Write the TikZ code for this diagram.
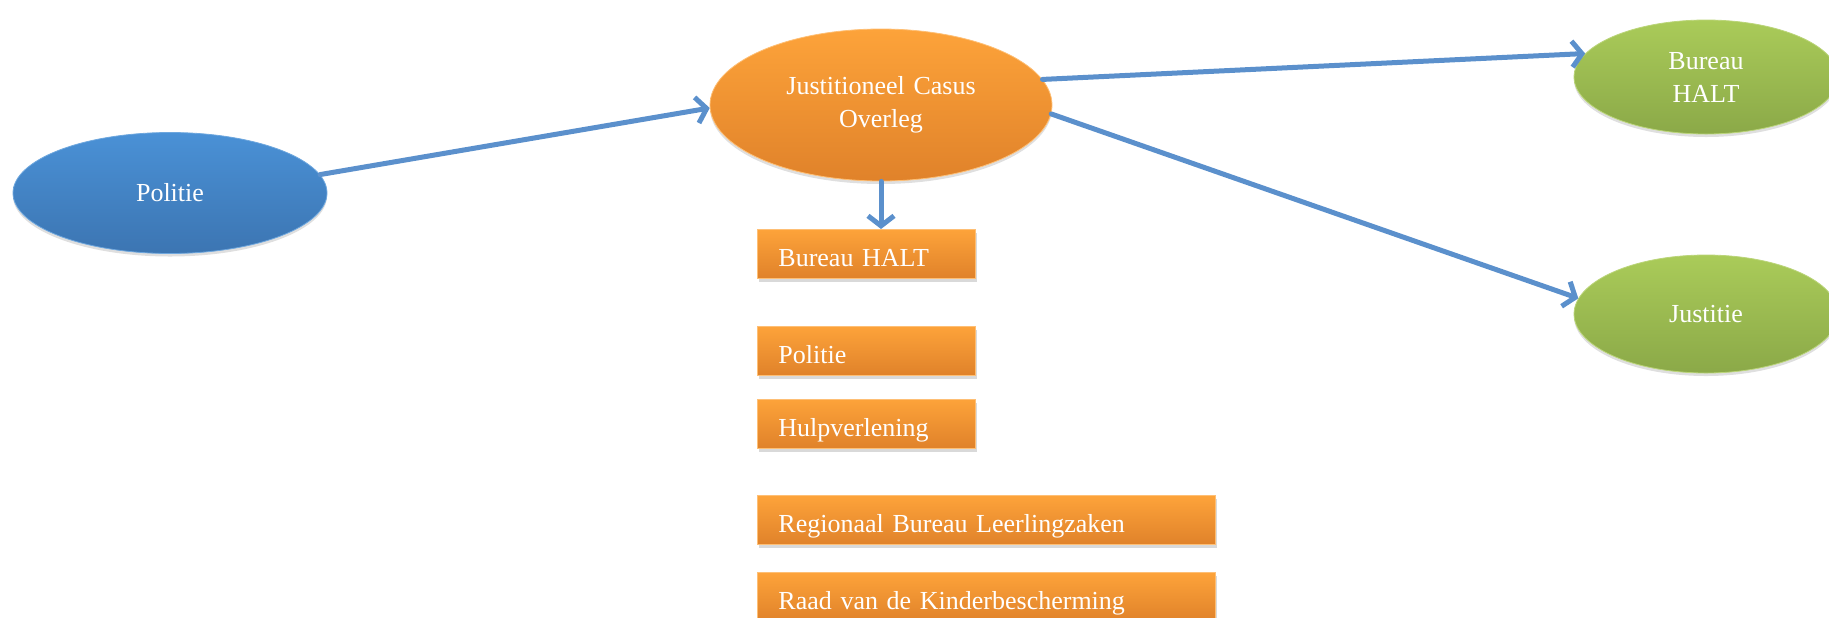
\documentclass[tikz,border=0pt]{standalone}
\usepackage{fontspec}
\setmainfont{Liberation Serif}
\usetikzlibrary{positioning,shapes.geometric,shadows,arrows.meta}

\definecolor{politieTop}{RGB}{74,145,214}
\definecolor{politieBot}{RGB}{60,117,178}
\definecolor{overlegTop}{RGB}{253,163,58}
\definecolor{overlegBot}{RGB}{224,130,42}
\definecolor{partnerTop}{RGB}{170,203,89}
\definecolor{partnerBot}{RGB}{139,169,72}
\definecolor{linkBlue}{RGB}{91,144,204}

\begin{document}
\begin{tikzpicture}[x=0.5pt,y=-0.5pt,
    font=\fontsize{13pt}{16.5pt}\selectfont,text=white,
    bubble/.style={ellipse,inner sep=0pt,align=center,
        drop shadow={shadow xshift=0pt,shadow yshift=-1.5pt,opacity=0.25}},
    box/.style={rectangle,inner xsep=10.5pt,inner ysep=0pt,minimum height=24.5pt,
        text height=12.5pt,text depth=0pt,align=left,
        top color=overlegTop,bottom color=overlegBot,draw=overlegTop!70!white,line width=0.4pt,
        drop shadow={shadow xshift=0.8pt,shadow yshift=-1.8pt,opacity=0.3}},
    link/.style={draw=linkBlue,line width=2.5pt,line cap=round,
        -{Straight Barb[length=5pt,width=13pt,line width=2.5pt]}}]
    \useasboundingbox (0,0) rectangle (1829,617);

    \node[bubble,minimum width=157pt,minimum height=60.5pt,
        top color=politieTop,bottom color=politieBot,draw=politieTop!80!white] (politie) at (170,193) {Politie};
    \node[bubble,minimum width=171pt,minimum height=76pt,text width=120pt,
        top color=overlegTop,bottom color=overlegBot,draw=overlegTop!70!white] (jco) at (881,105) {Justitioneel Casus\\Overleg};
    \node[bubble,minimum width=132pt,minimum height=57pt,text width=80pt,
        top color=partnerTop,bottom color=partnerBot,draw=partnerTop!80!white] (halt) at (1706,77) {Bureau\\HALT};
    \node[bubble,minimum width=132pt,minimum height=59pt,
        top color=partnerTop,bottom color=partnerBot,draw=partnerTop!80!white] (justitie) at (1706,314) {Justitie};

    % deelnemers aan het overleg
    \node[box,text width=88pt,anchor=north west] (rhalt) at (757,229) {Bureau HALT};
    \node[box,text width=88pt,below right=23.5pt and 0pt of rhalt.south west] (rpolitie) {Politie};
    \node[box,text width=88pt,below right=11.5pt and 0pt of rpolitie.south west] (rhulp) {Hulpverlening};
    \node[box,text width=208pt,below right=23.5pt and 0pt of rhulp.south west] (rrbl) {Regionaal Bureau Leerlingzaken};
    \node[box,text width=208pt,below right=13.5pt and 0pt of rrbl.south west] (rraad) {Raad van de Kinderbescherming};

    \coordinate (deelnemers) at (jco.south |- rhalt.north);

    \path
    (politie.7) edge[link] (jco.181)
    (jco.9) edge[link] (halt.169)
    (jco.-3) edge[link] (justitie.173)
    (jco.south) edge[link] (deelnemers);
\end{tikzpicture}
\end{document}
